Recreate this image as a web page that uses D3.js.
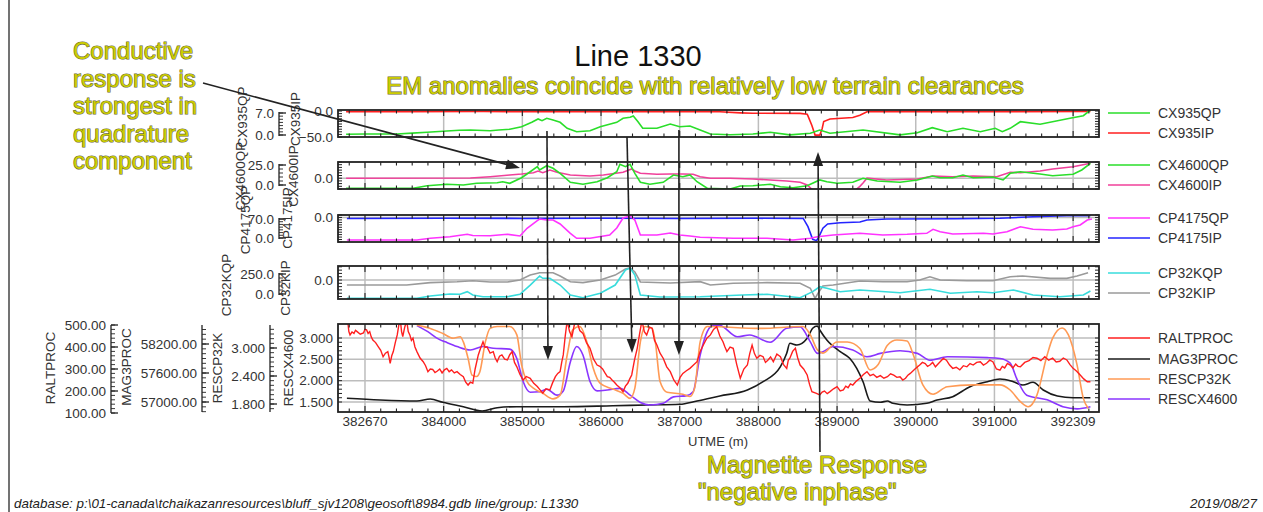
<!DOCTYPE html>
<html>
<head>
<meta charset="utf-8">
<script src="https://cdn.jsdelivr.net/npm/d3@7"></script>
<style>
  html, body { margin: 0; padding: 0; background: #fff; }
  svg { display: block; font-family: "Liberation Sans", Arial, Helvetica, sans-serif; }
</style>
</head>
<body>
<svg id="chart" width="1263" height="512"></svg>
<script>
// ---------------- Line 1330 profile data (UTME in metres) ----------------
const utmeExtent = [382657, 392329];
const xTickValues = [383000, 384000, 385000, 386000, 387000, 388000, 389000, 390000, 391000, 392000];
const xTickLabels = ["382670", "384000", "385000", "386000", "387000", "388000", "389000", "390000", "391000", "392309"];

const cx935QP = [[382760,0.22],[383000,0.3],[383190,0.32],[383410,0.32],[383600,0.6],[383790,0.86],[384040,1.27],[384200,1.5],[384340,1.59],[384590,1.37],[384700,1.6],[384840,1.81],[384990,2.64],[385120,4.04],[385200,5.09],[385250,4.55],[385310,5.31],[385390,4.77],[385480,4.04],[385570,2.13],[385690,1.05],[385860,1.37],[385990,2.64],[386200,4.04],[386280,5.31],[386370,5.63],[386410,6.05],[386470,4.23],[386530,2.13],[386710,2.13],[386880,3.5],[387000,2.64],[387130,2.86],[387260,1.59],[387390,0.32],[387640,0.1],[387930,0.32],[388150,0.86],[388400,0.05],[388660,0.54],[388780,1.59],[388910,0.54],[389330,1.59],[389800,0.05],[390020,0.73],[390210,2.32],[390400,1.05],[390600,2.13],[390820,1.05],[391010,2.13],[391100,1.05],[391200,2.13],[391330,4.23],[391580,3.4],[391960,5.31],[392130,6.14],[392220,7.95]];
const cx935IP = [[382760,-1.3],[383500,-1.2],[384500,-1.0],[385500,-1.3],[386500,-1.1],[387260,-1.3],[387510,-1.5],[387770,-3.5],[387930,-4.3],[388530,-4.5],[388620,-6],[388630,-9.3],[388680,-27.8],[388720,-46.3],[388780,-46.3],[388810,-34],[388830,-20.4],[388910,-15.4],[389200,-12.4],[389290,-8],[389380,-1.3],[390000,-1.2],[391000,-1.3],[392220,-1.0]];

const cx4600QP = [[382760,-4.1],[383410,-4.1],[383610,-4.1],[383790,-0.9],[384040,0.9],[384250,0],[384420,2.1],[384680,2.9],[384750,4.1],[384840,2.1],[384990,9.1],[385100,16.6],[385190,22.9],[385220,18.8],[385310,24.1],[385390,20.9],[385480,14.6],[385610,3.4],[385770,0.9],[385950,4.1],[386080,9.1],[386200,16.6],[386240,25.9],[386310,22.9],[386370,25.9],[386430,14.6],[386500,3.4],[386620,0.9],[386790,3.4],[386920,12.5],[387040,10.4],[387130,12.5],[387220,4.1],[387350,-4.1],[387640,-5],[387770,-1.3],[387930,-0.9],[388150,0.9],[388280,-2.1],[388440,-3.4],[388620,-0.9],[388780,6.3],[388870,4.1],[389000,2.1],[389200,3.4],[389330,8.4],[389510,5],[389800,3.4],[390020,6.3],[390210,11.3],[390310,9.1],[390470,9.1],[390600,12.5],[390730,9.1],[390980,10],[391110,6.3],[391200,14.6],[391330,16.6],[391580,13.8],[391740,11.6],[392000,13.4],[392110,18.8],[392220,27.1]];
const cx4600IP = [[382760,0],[384340,0.5],[384590,5.6],[384840,11.9],[384990,15.6],[385140,20.4],[385200,26.7],[385260,20.4],[385350,30.4],[385440,21.9],[385610,11.9],[385860,8.1],[386030,11.9],[386280,21.9],[386390,34.1],[386430,26.7],[386500,18.2],[386710,14.4],[386880,15.6],[387040,15.6],[387170,14.4],[387260,5.6],[387390,-0.4],[387640,0],[387930,-3],[388150,-6.7],[388360,-10.4],[388530,-15.2],[388620,-25.2],[388680,-41],[388780,-55],[388970,-42],[389100,-55],[389230,-45],[389290,-30],[389330,-18],[389380,0],[389630,-6.7],[390020,-3],[390220,8.1],[390470,5.6],[390730,8.1],[391030,5.6],[391200,21.9],[391330,20.4],[391580,26.7],[391740,34.1],[392000,42.6],[392110,48.9],[392220,55.2]];

const cp4175QP = [[382770,-7.4],[383660,-7.4],[383830,-1.1],[384080,4.8],[384300,13.6],[384370,9.2],[384590,8.5],[384810,13.6],[384970,7.4],[385060,35.7],[385190,63.7],[385220,70],[385310,66.3],[385390,66.3],[385480,51.6],[385610,17.3],[385690,-1.1],[385860,-1.1],[386110,11],[386200,36.8],[386280,73.7],[386370,81],[386430,66],[386500,11],[386710,11],[386880,18.4],[387000,11],[387130,7.4],[387260,2.6],[387680,-1.1],[388110,-1.1],[388440,-7.4],[388660,-1.1],[388750,4.8],[388950,11],[389290,17.3],[389580,11],[389890,13.6],[390140,17.3],[390220,32],[390310,23.2],[390470,14.7],[390860,17.3],[390980,14.7],[391160,23.2],[391330,41.6],[391490,32],[391740,29.5],[391920,33.2],[392000,41.6],[392090,47.9],[392180,66.3],[392240,70]];
const cp4175IP = [[382770,-8],[384000,-7],[385000,-8],[386000,-6],[387000,-8],[388000,-7],[388570,-8],[388630,-75],[388690,-178],[388740,-189],[388770,-157],[388820,-88],[388880,-53],[389040,-43],[389290,-37],[389380,-21],[389630,-13],[390500,-10],[391070,-7],[391490,6],[391920,14],[392220,15]];

const cp32KQP = [[382770,-54],[383660,-54],[383830,-25],[384080,0],[384210,-4],[384300,29],[384370,-12],[384500,-34],[384810,-34],[384970,-4],[385100,112],[385220,225],[385260,196],[385350,196],[385480,112],[385610,-12],[385770,-46],[385990,9],[386180,112],[386310,300],[386370,325],[386430,237],[386500,-12],[386750,-37],[387260,-34],[387800,-12],[388110,-4],[388530,-46],[388690,29],[388780,91],[388870,71],[389040,29],[389290,50],[389800,16],[390180,59],[390440,9],[390780,29],[390980,16],[391240,50],[391490,-12],[391830,-34],[392130,-12],[392220,37]];
const cp32KIP = [[382770,-30],[383530,-30],[383830,-16],[384170,-10],[384370,-4],[384590,-12],[384810,-12],[384970,0],[385100,30],[385220,44],[385390,44],[385480,24],[385610,-10],[385770,-16],[385990,0],[386180,30],[386310,67],[386370,73],[386430,49],[386500,-12],[386880,-18],[387260,-10],[387390,-30],[387680,-20],[388110,-16],[388530,-20],[388660,-50],[388720,-111],[388770,-71],[388820,-36],[388950,-30],[389290,-6],[389580,-10],[389890,-10],[390050,0],[390180,20],[390310,0],[390650,-4],[390980,-4],[391200,20],[391360,24],[391710,10],[391920,10],[392050,24],[392190,44]];

const raltProc = [[382780,520],[382795,470],[382810,455],[382835,468],[382860,462],[382880,476],[382900,470],[382940,458],[382980,464],[383000,480],[383020,478],[383040,462],[383060,470],[383080,445],[383100,432],[383135,420],[383170,401],[383200,385],[383230,356],[383260,372],[383290,379],[383305,355],[383320,326],[383340,360],[383360,379],[383385,420],[383410,455],[383430,500],[383450,520],[383465,470],[383480,447],[383505,490],[383530,520],[383550,470],[383570,455],[383590,430],[383610,440],[383635,400],[383660,379],[383700,350],[383740,333],[383770,315],[383800,288],[383830,300],[383860,298],[383890,284],[383920,291],[383950,300],[383980,282],[384010,296],[384040,303],[384070,288],[384100,296],[384135,282],[384170,288],[384210,275],[384250,265],[384280,240],[384310,227],[384340,240],[384370,235],[384400,300],[384440,364],[384470,395],[384500,424],[384525,398],[384550,401],[384590,372],[384630,379],[384655,350],[384680,333],[384710,358],[384740,364],[384775,345],[384810,341],[384840,365],[384870,379],[384900,330],[384930,310],[384970,275],[385010,250],[385050,266],[385100,258],[385145,235],[385190,220],[385225,205],[385260,190],[385300,210],[385350,205],[385385,238],[385420,265],[385450,280],[385480,288],[385500,330],[385520,364],[385545,450],[385570,520],[385600,470],[385630,447],[385660,500],[385690,520],[385730,475],[385770,462],[385815,420],[385860,394],[385905,345],[385950,318],[385985,312],[386020,300],[386050,282],[386080,265],[386110,262],[386140,250],[386170,240],[386200,227],[386240,215],[386280,197],[386310,222],[386340,235],[386365,255],[386390,273],[386425,340],[386460,394],[386490,460],[386520,520],[386550,470],[386580,455],[386615,490],[386650,485],[386680,430],[386710,409],[386750,372],[386790,349],[386835,310],[386880,288],[386925,250],[386970,227],[387005,262],[387040,280],[387085,292],[387130,303],[387175,318],[387220,333],[387260,380],[387300,409],[387345,440],[387390,455],[387430,480],[387470,492],[387510,450],[387550,424],[387575,400],[387600,379],[387640,400],[387680,394],[387725,320],[387770,258],[387815,300],[387860,318],[387890,370],[387920,409],[387950,370],[387980,349],[388020,362],[388060,356],[388090,330],[388120,340],[388155,355],[388190,333],[388235,368],[388280,356],[388320,320],[388360,303],[388380,340],[388400,349],[388435,380],[388470,394],[388500,350],[388530,318],[388575,300],[388620,273],[388650,230],[388680,197],[388730,190],[388780,182],[388810,195],[388840,200],[388875,188],[388910,197],[388955,210],[389000,220],[389040,200],[389080,205],[389110,222],[389140,215],[389170,232],[389200,227],[389245,245],[389290,258],[389335,275],[389380,288],[389420,270],[389460,276],[389505,262],[389550,270],[389595,258],[389640,265],[389680,278],[389720,272],[389760,262],[389800,265],[389835,250],[389870,258],[389900,272],[389930,280],[389990,300],[390050,318],[390085,330],[390120,325],[390150,312],[390180,318],[390215,330],[390250,310],[390280,322],[390310,333],[390350,348],[390390,340],[390430,318],[390470,303],[390515,308],[390560,296],[390605,315],[390650,310],[390690,325],[390730,318],[390775,330],[390820,333],[390860,318],[390900,326],[390940,340],[390980,333],[391025,300],[391070,295],[391100,312],[391130,305],[391165,325],[391200,318],[391235,305],[391270,322],[391300,312],[391330,310],[391385,330],[391440,338],[391490,352],[391540,349],[391590,338],[391640,356],[391690,340],[391740,349],[391785,332],[391830,335],[391875,350],[391920,341],[391960,320],[392000,303],[392045,290],[392090,273],[392135,255],[392180,242],[392220,242]];
const mag3Proc = [[382770,57077],[383190,57041],[383660,57021],[383830,57062],[383990,56994],[384250,56903],[384490,56814],[384680,56882],[384930,56903],[385520,56903],[386150,56923],[386580,56938],[387000,56952],[387220,57021],[387510,57124],[387860,57248],[388060,57420],[388280,57730],[388360,58008],[388400,58214],[388490,58179],[388620,58318],[388690,58525],[388750,58572],[388780,58490],[388870,58283],[389040,58041],[389160,57904],[389250,57697],[389330,57420],[389420,57021],[389550,56994],[389640,57021],[389710,56973],[389890,56938],[390140,56973],[390270,57041],[390470,57110],[390690,57317],[390910,57420],[391070,57476],[391240,57420],[391360,57352],[391490,57408],[391620,57248],[391800,57124],[392000,57089],[392220,57089]];
const rescp32K = [[383660,3.49],[383830,3.42],[383990,3.31],[384120,3.21],[384210,3.24],[384250,3.13],[384310,2.78],[384360,2.42],[384420,2.39],[384460,2.49],[384530,3.13],[384590,3.42],[384680,3.46],[384840,3.46],[384930,3.28],[384990,2.64],[385060,2.28],[385140,2.14],[385260,2.03],[385390,1.91],[385480,1.99],[385570,2.85],[385640,3.39],[385730,3.46],[385820,3.13],[385900,2.57],[385990,2.24],[386150,2.12],[386280,2.03],[386370,1.92],[386430,2.14],[386500,3.13],[386560,3.46],[386650,3.42],[386690,3.13],[386750,2.28],[386840,2.05],[387040,2.01],[387130,1.96],[387190,2.14],[387260,3.13],[387350,3.46],[388020,3.42],[388570,3.46],[388660,3.28],[388750,2.96],[388820,2.89],[389000,3.13],[389130,3.13],[389290,2.99],[389420,2.53],[389520,2.64],[389640,3.06],[389760,3.17],[389890,3.15],[389970,2.85],[390090,2.21],[390220,2.01],[390400,2.17],[390730,2.21],[391070,2.21],[391200,2.10],[391330,1.85],[391430,1.74],[391540,1.99],[391670,2.85],[391740,3.21],[391860,3.43],[391940,3.28],[392050,2.64],[392130,1.92],[392190,1.71]];
const rescx4600 = [[383660,3.29],[383830,3.11],[383920,2.99],[384020,2.91],[384170,2.80],[384340,2.72],[384500,2.80],[384630,2.76],[384840,2.74],[384930,2.52],[385010,1.98],[385100,1.73],[385220,1.74],[385310,1.80],[385440,1.66],[385520,1.76],[385610,2.44],[385690,2.80],[385770,2.60],[385860,1.98],[385950,1.76],[386080,1.78],[386240,1.82],[386370,1.66],[386500,1.49],[386620,1.43],[386790,1.47],[386920,1.62],[387090,1.65],[387170,1.74],[387260,2.60],[387350,3.15],[387420,3.29],[387510,3.29],[387730,3.03],[387890,3.07],[388150,2.90],[388360,3.23],[388530,3.26],[388660,2.91],[388750,2.64],[388820,2.68],[388950,2.80],[389200,2.72],[389380,2.56],[389550,2.64],[389800,2.70],[390020,2.64],[390180,2.48],[390400,2.56],[390910,2.54],[391070,2.52],[391200,2.41],[391290,2.02],[391410,1.66],[391670,1.55],[391870,1.39],[392050,1.34],[392220,1.39]];

// ---------------- layout ----------------
const W = 1263, H = 512;
const X0 = 338, X1 = 1099;
const svg = d3.select("#chart");
const INK = "#222", TXT = "#333", GRID = "#bdbdbd";

const x = d3.scaleLinear().domain(utmeExtent).range([X0, X1]);

// page frame
svg.append("line").attr("x1", 9).attr("x2", 9).attr("y1", 0).attr("y2", H)
  .attr("stroke", "#444").attr("stroke-width", 1.5);

// EM stacked panels: quadrature on a side ruler, in-phase on the frame edge
const emPanels = [
  { top: 110, bottom: 137, qp: { name: "CX935QP", data: cx935QP, color: "#2ade2a" }, ip: { name: "CX935IP", data: cx935IP, color: "#ff1f1f" },
    qpMax: 7, qpRange: [135, 113], qpMinor: 1, ipDomain: [-50, 2], ipLabels: [0, -50], ipMinor: 5, qpLabel: [242, 117], ipLabel: [295, 119] },
  { top: 162, bottom: 189, qp: { name: "CX4600QP", data: cx4600QP, color: "#2ade2a" }, ip: { name: "CX4600IP", data: cx4600IP, color: "#f0409a" },
    qpMax: 25, qpRange: [185, 165], qpMinor: 5, ipDomain: [-40, 60], ipLabels: [0], ipMinor: 10, qpLabel: [240, 176], ipLabel: [293, 176] },
  { top: 215, bottom: 242, qp: { name: "CP4175QP", data: cp4175QP, color: "#ff33ff" }, ip: { name: "CP4175IP", data: cp4175IP, color: "#2424ff" },
    qpMax: 70, qpRange: [238, 219], qpMinor: 10, ipDomain: [-200, 20], ipLabels: [0], ipMinor: 20, qpLabel: [245, 220], ipLabel: [287, 218] },
  { top: 266, bottom: 299, qp: { name: "CP32KQP", data: cp32KQP, color: "#38dcdc" }, ip: { name: "CP32KIP", data: cp32KIP, color: "#9a9a9a" },
    qpMax: 250, qpRange: [294, 274], qpMinor: 50, ipDomain: [-115, 85], ipLabels: [0], ipMinor: 20, qpLabel: [226, 285], ipLabel: [285, 288] }
];

function vLabel(px, py, text, size) {
  svg.append("text").attr("transform", `translate(${px},${py}) rotate(-90)`)
    .attr("text-anchor", "middle").attr("dominant-baseline", "central")
    .attr("font-size", size || 13.5).attr("fill", TXT).text(text);
}

// ruler with comb ticks pointing right, labels to the left
function ruler(scale, rx, majors, minorStep, y0, y1, fmt) {
  const g = svg.append("g");
  g.append("line").attr("x1", rx).attr("x2", rx).attr("y1", y0).attr("y2", y1)
    .attr("stroke", INK).attr("stroke-width", 1.3);
  const lo = scale.invert(Math.max(y0, y1)), hi = scale.invert(Math.min(y0, y1));
  const minors = d3.range(Math.ceil(Math.min(lo, hi) / minorStep - 1e-9) * minorStep, Math.max(lo, hi) + 1e-9, minorStep);
  g.selectAll(".mn").data(minors).join("line")
    .attr("x1", rx).attr("x2", rx + 4).attr("y1", d => scale(d)).attr("y2", d => scale(d))
    .attr("stroke", INK).attr("stroke-width", 0.9);
  g.selectAll(".mj").data(majors).join("line")
    .attr("x1", rx).attr("x2", rx + 7).attr("y1", d => scale(d)).attr("y2", d => scale(d))
    .attr("stroke", INK).attr("stroke-width", 1.3);
  g.selectAll("text").data(majors).join("text")
    .attr("x", rx - 5).attr("y", d => scale(d)).attr("text-anchor", "end")
    .attr("dominant-baseline", "central").attr("font-size", 13.5).attr("fill", TXT)
    .text(d => d3.format(fmt)(d));
}

// vertical grid of a panel
function panelGrid(top, bottom) {
  svg.append("g").selectAll("line").data(xTickValues).join("line")
    .attr("x1", d => x(d)).attr("x2", d => x(d)).attr("y1", top).attr("y2", bottom)
    .attr("stroke", GRID).attr("stroke-width", 1.5);
}

// frame of a panel with inward ticks on all four sides
function panelTicks(top, bottom, edgeScale, edgeMinor) {
  const g = svg.append("g");
  const minorX = d3.range(382800, 392300, 200);
  const len = d => (d % 1000 === 0 ? 6 : 3.5);
  g.selectAll(".tt").data(minorX).join("line")
    .attr("x1", d => x(d)).attr("x2", d => x(d)).attr("y1", top).attr("y2", d => top + len(d))
    .attr("stroke", INK).attr("stroke-width", 1.1);
  g.selectAll(".tb").data(minorX).join("line")
    .attr("x1", d => x(d)).attr("x2", d => x(d)).attr("y1", bottom).attr("y2", d => bottom - len(d))
    .attr("stroke", INK).attr("stroke-width", 1.1);
  const [a, b] = d3.extent(edgeScale.domain());
  const ys = d3.range(Math.ceil(a / edgeMinor - 1e-9) * edgeMinor, b + 1e-9, edgeMinor);
  g.selectAll(".tl").data(ys).join("line")
    .attr("x1", X0).attr("x2", X0 + 4).attr("y1", d => edgeScale(d)).attr("y2", d => edgeScale(d))
    .attr("stroke", INK).attr("stroke-width", 1);
  g.selectAll(".tr").data(ys).join("line")
    .attr("x1", X1).attr("x2", X1 - 4).attr("y1", d => edgeScale(d)).attr("y2", d => edgeScale(d))
    .attr("stroke", INK).attr("stroke-width", 1);
  g.append("rect").attr("x", X0).attr("y", top).attr("width", X1 - X0).attr("height", bottom - top)
    .attr("fill", "none").attr("stroke", INK).attr("stroke-width", 1.8);
}

const defs = svg.append("defs");
function clipFor(id, top, bottom) {
  defs.append("clipPath").attr("id", id).append("rect")
    .attr("x", X0).attr("y", top).attr("width", X1 - X0).attr("height", bottom - top);
  return `url(#${id})`;
}

emPanels.forEach((p, i) => {
  const ipScale = d3.scaleLinear().domain(p.ipDomain).range([p.bottom, p.top]);
  const qpScale = d3.scaleLinear().domain([0, p.qpMax]).range(p.qpRange);
  panelGrid(p.top, p.bottom);
  const y0 = ipScale(0);
  if (y0 > p.top + 2) {
    svg.append("line").attr("x1", X0).attr("x2", X1).attr("y1", y0).attr("y2", y0)
      .attr("stroke", GRID).attr("stroke-width", 1.5);
  }
  const gl = svg.append("g").attr("clip-path", clipFor("clip" + i, p.top, p.bottom));
  gl.append("path").datum(p.ip.data)
    .attr("d", d3.line().x(d => x(d[0])).y(d => ipScale(d[1])))
    .attr("fill", "none").attr("stroke", p.ip.color).attr("stroke-width", 1.6);
  gl.append("path").datum(p.qp.data)
    .attr("d", d3.line().x(d => x(d[0])).y(d => qpScale(d[1])))
    .attr("fill", "none").attr("stroke", p.qp.color).attr("stroke-width", 1.6);
  panelTicks(p.top, p.bottom, ipScale, p.ipMinor);

  // in-phase labels on frame edge
  svg.append("g").selectAll("text").data(p.ipLabels).join("text")
    .attr("x", X0 - 5).attr("y", d => ipScale(d)).attr("text-anchor", "end")
    .attr("dominant-baseline", "central").attr("font-size", 13.5).attr("fill", TXT)
    .text(d => d3.format(".1f")(d));
  // quadrature ruler
  ruler(qpScale, 279, [0, p.qpMax], p.qpMinor, qpScale(p.qpMax) - 1, qpScale(0) + 1, ".1f");
  vLabel(p.qpLabel[0], p.qpLabel[1], p.qp.name);
  vLabel(p.ipLabel[0], p.ipLabel[1], p.ip.name);
});

// ---------------- bottom panel: altimeter, magnetics, resistivity ----------------
const B = { top: 324, bottom: 412 };
const yRalt = d3.scaleLinear().domain([100, 500]).range([413, 325]);
const yMag = d3.scaleLinear().domain([57000, 58200]).range([402, 344]);
const yR32 = d3.scaleLinear().domain([1.8, 3.0]).range([404, 348]);
const yR46 = d3.scaleLinear().domain([1.5, 3.0]).range([402, 338]);

panelGrid(B.top, B.bottom);
svg.append("g").selectAll("line").data([1.5, 2.0, 2.5, 3.0]).join("line")
  .attr("x1", X0).attr("x2", X1).attr("y1", d => yR46(d)).attr("y2", d => yR46(d))
  .attr("stroke", GRID).attr("stroke-width", 1.5);

const bottomSeries = [
  { name: "RALTPROC", data: raltProc, scale: yRalt, color: "#ff1f1f", curve: d3.curveLinear, w: 1.4 },
  { name: "MAG3PROC", data: mag3Proc, scale: yMag, color: "#1a1a1a", curve: d3.curveMonotoneX, w: 1.6 },
  { name: "RESCP32K", data: rescp32K, scale: yR32, color: "#ff9a55", curve: d3.curveMonotoneX, w: 1.6 },
  { name: "RESCX4600", data: rescx4600, scale: yR46, color: "#8a35ff", curve: d3.curveMonotoneX, w: 1.6 }
];
const gb = svg.append("g").attr("clip-path", clipFor("clipB", B.top, B.bottom));
[bottomSeries[1], bottomSeries[3], bottomSeries[2], bottomSeries[0]].forEach(s => {
  gb.append("path").datum(s.data)
    .attr("d", d3.line().curve(s.curve).x(d => x(d[0])).y(d => s.scale(d[1])))
    .attr("fill", "none").attr("stroke", s.color).attr("stroke-width", s.w);
});
panelTicks(B.top, B.bottom, yR46, 0.1);

svg.append("g").selectAll("text").data([1.5, 2.0, 2.5, 3.0]).join("text")
  .attr("x", X0 - 5).attr("y", d => yR46(d)).attr("text-anchor", "end")
  .attr("dominant-baseline", "central").attr("font-size", 13.5).attr("fill", TXT)
  .text(d => d3.format(".3f")(d));

ruler(yRalt, 111, [100, 200, 300, 400, 500], 20, 325, 413, ".2f");
ruler(yMag, 202, [57000, 57600, 58200], 100, 325, 412, ".2f");
ruler(yR32, 270, [1.8, 2.4, 3.0], 0.1, 325, 412, ".3f");
vLabel(50, 368, "RALTPROC");
vLabel(126, 367, "MAG3PROC");
vLabel(217, 368, "RESCP32K");
vLabel(288, 368, "RESCX4600");

// x axis labels
svg.append("g").selectAll("text").data(xTickValues).join("text")
  .attr("x", d => x(d)).attr("y", 426).attr("text-anchor", "middle")
  .attr("font-size", 13.5).attr("fill", TXT)
  .text((d, i) => xTickLabels[i]);
svg.append("text").attr("x", 718).attr("y", 446).attr("text-anchor", "middle")
  .attr("font-size", 13).attr("fill", TXT).text("UTME (m)");

// ---------------- legend ----------------
const legendRows = [
  { s: emPanels[0].qp, y: 113 }, { s: emPanels[0].ip, y: 133 },
  { s: emPanels[1].qp, y: 165 }, { s: emPanels[1].ip, y: 185 },
  { s: emPanels[2].qp, y: 218 }, { s: emPanels[2].ip, y: 238 },
  { s: emPanels[3].qp, y: 273 }, { s: emPanels[3].ip, y: 293 },
  { s: bottomSeries[0], y: 338 }, { s: bottomSeries[1], y: 359 },
  { s: bottomSeries[2], y: 379 }, { s: bottomSeries[3], y: 399 }
];
const lg = svg.append("g").selectAll("g").data(legendRows).join("g");
lg.append("line").attr("x1", 1108).attr("x2", 1150).attr("y1", d => d.y).attr("y2", d => d.y)
  .attr("stroke", d => d.s.color).attr("stroke-width", 1.6);
lg.append("text").attr("x", 1158).attr("y", d => d.y).attr("dominant-baseline", "central")
  .attr("font-size", 14).attr("fill", TXT).text(d => d.s.name);

// ---------------- titles & notes ----------------
svg.append("text").attr("x", 638).attr("y", 66).attr("text-anchor", "middle")
  .attr("font-size", 29).attr("fill", "#111").text("Line 1330");

function note(px, py, text, anchor) {
  svg.append("text").attr("x", px).attr("y", py).attr("text-anchor", anchor || "start")
    .attr("font-size", 24).attr("fill", "#cccc00").attr("stroke", "#66663a")
    .attr("stroke-width", 1.1).attr("paint-order", "stroke").text(text);
}
note(705, 94, "EM anomalies coincide with relatively low terrain clearances", "middle");
["Conductive", "response is", "strongest in", "quadrature", "component"]
  .forEach((t, i) => note(73, 59 + i * 27.5, t));
note(707, 473, "Magnetite Response");
note(698, 500, "\"negative inphase\"");

// arrows
function arrow(xa, ya, xb, yb) {
  const ang = Math.atan2(yb - ya, xb - xa), L = 14, hw = 5;
  const bx = xb - L * Math.cos(ang), by = yb - L * Math.sin(ang);
  svg.append("line").attr("x1", xa).attr("y1", ya).attr("x2", bx).attr("y2", by)
    .attr("stroke", INK).attr("stroke-width", 1.6);
  const pts = [[xb, yb], [bx + hw * Math.sin(ang), by - hw * Math.cos(ang)], [bx - hw * Math.sin(ang), by + hw * Math.cos(ang)]];
  svg.append("polygon").attr("points", pts.map(p => p.join(",")).join(" ")).attr("fill", INK);
}
arrow(203, 83, 520, 168);
const anomalyArrows = [
  { u0: 385313, y0: 131, u1: 385326, y1: 360 },
  { u0: 386330, y0: 137, u1: 386394, y1: 353 },
  { u0: 386990, y0: 130, u1: 386990, y1: 355 },
  { u0: 388783, y0: 452, u1: 388758, y1: 152 }
];
anomalyArrows.forEach(a => arrow(x(a.u0), a.y0, x(a.u1), a.y1));

// footer
svg.append("text").attr("x", 14).attr("y", 508).attr("font-size", 13.4).attr("font-style", "italic")
  .attr("fill", "#222")
  .text("database: p:\\01-canada\\tchaikazanresources\\bluff_sjv1208\\geosoft\\8984.gdb  line/group: L1330");
svg.append("text").attr("x", 1257).attr("y", 508).attr("text-anchor", "end").attr("font-size", 13.4)
  .attr("font-style", "italic").attr("fill", "#222").text("2019/08/27");
</script>
</body>
</html>
